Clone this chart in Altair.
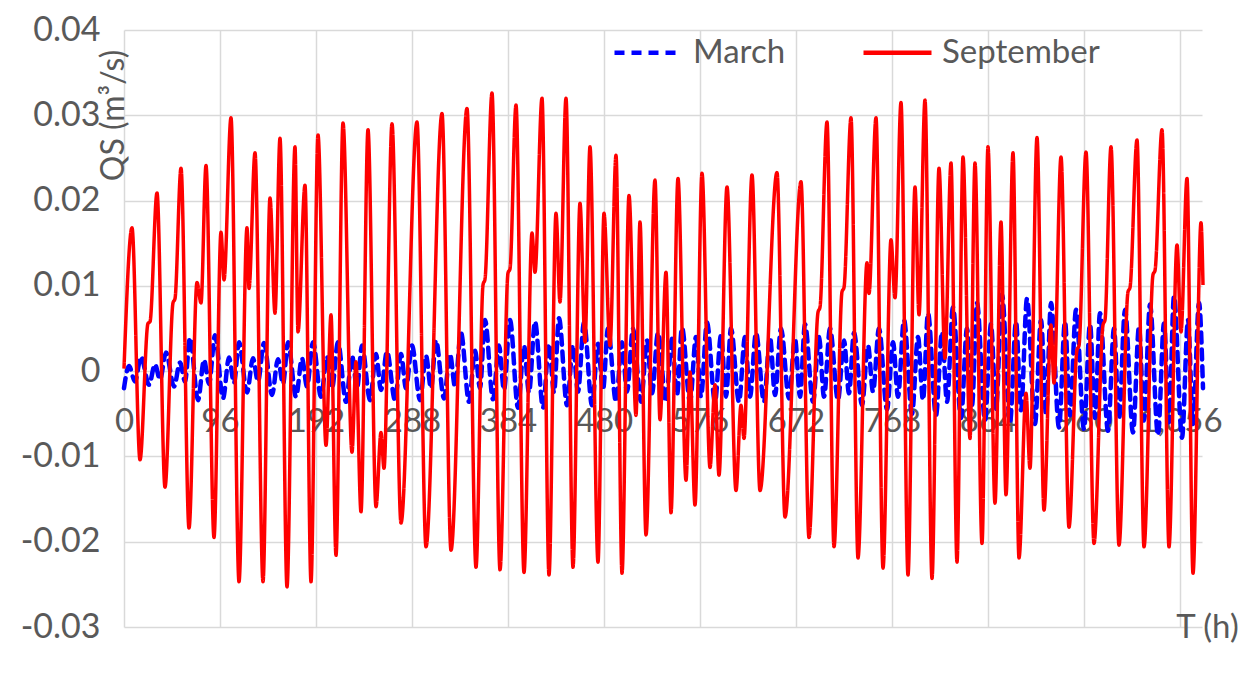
import altair as alt
import pandas as pd

# September discharge QS (m3/s): turning points of the hourly record, time in hours
sep_t = [0, 8, 16, 24, 26, 33, 41, 49, 51, 57, 65, 73, 77, 82, 90, 97, 100, 107, 115,
         123, 125, 131, 139, 146, 151, 156, 163, 171, 174, 181, 187, 194, 202, 207, 212,
         219, 228, 232, 237, 244, 252, 257, 260, 268, 277, 293, 302, 318, 327, 343, 352,
         359, 361, 368, 376, 384, 386, 392, 400, 408, 411, 418, 425, 432, 436, 442, 449,
         456, 461, 466, 474, 480, 486, 492, 498, 505, 512, 516, 522, 531, 536, 542, 547,
         554, 562, 566, 571, 578, 586, 591, 595, 603, 612, 617, 620, 628, 636, 653, 661,
         677, 685, 694, 696, 703, 710, 718, 720, 727, 734, 743, 745, 752, 759, 767, 771,
         777, 784, 791, 795, 801, 808, 815, 821, 827, 833, 839, 846, 851, 858, 864, 871,
         877, 882, 889, 895, 902, 906, 913, 920, 927, 930, 937, 945, 953, 955, 962, 970,
         979, 981, 987, 995, 1004, 1006, 1013, 1020, 1029, 1031, 1038, 1045, 1053, 1057,
         1063, 1069, 1077, 1079]
sep_q = [0.0003, 0.0168, -0.0104, 0.0056, 0.0058, 0.0209, -0.0136, 0.0080, 0.0085, 0.0238,
         -0.0184, 0.0104, 0.0080, 0.0241, -0.0195, 0.0163, 0.0107, 0.0297, -0.0247,
         0.0168, 0.0097, 0.0256, -0.0247, 0.0203, 0.0068, 0.0273, -0.0253, 0.0263, 0.0046,
         0.0218, -0.0247, 0.0277, -0.0087, 0.0066, -0.0216, 0.0291, -0.0095, 0.0011,
         -0.0165, 0.0283, -0.0159, -0.0072, -0.0114, 0.0290, -0.0178, 0.0292, -0.0206,
         0.0302, -0.0210, 0.0308, -0.0230, 0.0101, 0.0108, 0.0326, -0.0233, 0.0115, 0.0120,
         0.0312, -0.0236, 0.0162, 0.0116, 0.0320, -0.0239, 0.0185, 0.0081, 0.0320, -0.0230,
         0.0197, 0.0034, 0.0263, -0.0224, 0.0185, 0.0030, 0.0253, -0.0237, 0.0206, -0.0052,
         0.0175, -0.0192, 0.0224, -0.0057, 0.0116, -0.0166, 0.0226, -0.0128, -0.0001,
         -0.0157, 0.0232, -0.0113, -0.0016, -0.0122, 0.0216, -0.0140, -0.0040, -0.0079,
         0.0230, -0.0140, 0.0233, -0.0171, 0.0222, -0.0195, 0.0069, 0.0075, 0.0292, -0.0206,
         0.0093, 0.0098, 0.0297, -0.0219, 0.0127, 0.0091, 0.0297, -0.0231, 0.0154, 0.0086,
         0.0315, -0.0239, 0.0216, 0.0066, 0.0318, -0.0243, 0.0238, 0.0015, 0.0244, -0.0224,
         0.0251, -0.0079, 0.0244, -0.0202, 0.0263, -0.0155, 0.0175, -0.0145, 0.0256,
         -0.0219, -0.0026, -0.0114, 0.0274, -0.0163, 0.0054, -0.0014, 0.0251, -0.0183,
         0.0025, 0.0030, 0.0257, -0.0202, 0.0054, 0.0060, 0.0263, -0.0204, 0.0093, 0.0098,
         0.0271, -0.0206, 0.0113, 0.0118, 0.0283, -0.0206, 0.0148, 0.0046, 0.0226, -0.0237,
         0.0174, 0.0101]

# March discharge QS (m3/s): turning points, time in hours
mar_t = [0, 5, 11, 17, 25, 31, 36, 42, 50, 56, 61, 66, 74, 80, 85, 91, 99, 105, 110, 115,
         123, 129, 134, 140, 148, 154, 159, 164, 172, 178, 183, 189, 197, 203, 208, 214,
         222, 228, 233, 238, 246, 252, 257, 263, 271, 277, 282, 288, 296, 302, 307, 312,
         320, 326, 331, 337, 345, 351, 356, 361, 369, 375, 380, 386, 394, 400, 405, 411,
         419, 425, 430, 435, 443, 449, 454, 460, 468, 474, 479, 484, 492, 498, 503, 509,
         517, 523, 528, 534, 542, 548, 553, 558, 566, 572, 577, 583, 591, 597, 602, 607,
         615, 621, 626, 632, 640, 646, 651, 657, 665, 671, 676, 681, 689, 695, 700, 706,
         714, 720, 725, 730, 738, 744, 749, 755, 763, 769, 774, 780, 788, 794, 799, 804,
         812, 818, 823, 829, 837, 843, 848, 853, 861, 867, 872, 878, 886, 892, 897, 903,
         911, 917, 922, 927, 935, 941, 946, 952, 960, 966, 971, 976, 984, 990, 995, 1001,
         1009, 1015, 1020, 1026, 1034, 1040, 1045, 1050, 1058, 1064, 1069, 1075, 1079]
mar_q = [-0.0020, 0.0006, -0.0012, 0.0017, -0.0016, 0.0008, -0.0010, 0.0022, -0.0018,
         0.0010, -0.0012, 0.0039, -0.0034, 0.0013, -0.0015, 0.0042, -0.0032, 0.0016,
         -0.0014, 0.0034, -0.0025, 0.0015, -0.0012, 0.0033, -0.0028, 0.0014, -0.0015,
         0.0034, -0.0030, 0.0015, -0.0018, 0.0034, -0.0030, 0.0017, -0.0020, 0.0034,
         -0.0036, 0.0018, -0.0020, 0.0030, -0.0034, 0.0020, -0.0022, 0.0023, -0.0034,
         0.0020, -0.0020, 0.0030, -0.0034, 0.0018, -0.0020, 0.0036, -0.0032, 0.0020,
         -0.0018, 0.0045, -0.0036, 0.0024, -0.0020, 0.0060, -0.0033, 0.0030, -0.0022,
         0.0060, -0.0043, 0.0030, -0.0025, 0.0058, -0.0043, 0.0032, -0.0025, 0.0062,
         -0.0040, 0.0030, -0.0024, 0.0057, -0.0040, 0.0032, -0.0022, 0.0050, -0.0036,
         0.0034, -0.0024, 0.0050, -0.0036, 0.0036, -0.0026, 0.0045, -0.0036, 0.0038,
         -0.0028, 0.0051, -0.0036, 0.0040, -0.0030, 0.0057, -0.0036, 0.0042, -0.0030,
         0.0050, -0.0036, 0.0040, -0.0030, 0.0045, -0.0036, 0.0040, -0.0028, 0.0050,
         -0.0032, 0.0038, -0.0030, 0.0055, -0.0036, 0.0040, -0.0030, 0.0050, -0.0034,
         0.0036, -0.0026, 0.0045, -0.0040, 0.0030, -0.0024, 0.0050, -0.0045, 0.0034,
         -0.0030, 0.0060, -0.0050, 0.0040, -0.0034, 0.0068, -0.0052, 0.0046, -0.0036,
         0.0075, -0.0055, 0.0050, -0.0040, 0.0080, -0.0058, 0.0055, -0.0044, 0.0090,
         -0.0060, 0.0058, -0.0046, 0.0085, -0.0062, 0.0060, -0.0050, 0.0080, -0.0066,
         0.0058, -0.0052, 0.0072, -0.0068, 0.0055, -0.0055, 0.0068, -0.0070, 0.0050,
         -0.0056, 0.0072, -0.0072, 0.0052, -0.0058, 0.0078, -0.0075, 0.0056, -0.0060,
         0.0088, -0.0078, 0.0060, -0.0062, 0.0080, -0.0020]

series_names = ["March", "September"]
series_colors = ["#0000FF", "#FF0000"]
series_dash = [[10, 7], [1, 0]]
x_ticks = [0, 96, 192, 288, 384, 480, 576, 672, 768, 864, 960, 1056]
y_ticks = [-0.03, -0.02, -0.01, 0, 0.01, 0.02, 0.03, 0.04]

march = pd.DataFrame({"T": mar_t, "QS": mar_q, "series": "March"})
september = pd.DataFrame({"T": sep_t, "QS": sep_q, "series": "September"})

FONT = "Lato"
GREY = "#595959"
GRID = "#D9D9D9"

x_enc = alt.X(
    "T:Q",
    scale=alt.Scale(domain=[0, 1078], nice=False, zero=False),
    axis=alt.Axis(
        values=x_ticks, title="T (h)", offset=-256, grid=True, gridColor=GRID,
        gridWidth=1.5, domain=False, ticks=False, labelFontSize=33, labelColor=GREY,
        labelFont=FONT, labelPadding=34, labelOverlap=False, labelFlush=False,
        labelBound=False, titleFont=FONT, titleFontSize=33, titleFontWeight="normal",
        titleColor=GREY, titleX=1083, titleY=256, titleAlign="center",
        titleBaseline="middle",
    ),
)
y_enc = alt.Y(
    "QS:Q",
    scale=alt.Scale(domain=[-0.03, 0.04], nice=False, zero=False),
    axis=alt.Axis(
        values=y_ticks, title="QS (m³/s)", grid=True, gridColor=GRID, gridWidth=1.5,
        domain=False, ticks=False, labelFontSize=34, labelColor=GREY, labelFont=FONT,
        labelPadding=24, labelFlush=False, labelOverlap=False,
        labelExpr="datum.value == 0 ? '0' : (datum.value < 0 ? '-' : '') + format(abs(datum.value), '.2f')",
        titleFont=FONT, titleFontSize=32, titleFontWeight="normal", titleColor=GREY,
        titleAngle=270, titleX=-11, titleY=85, titleAlign="center", titleBaseline="middle",
    ),
)
color_enc = alt.Color(
    "series:N",
    scale=alt.Scale(domain=series_names, range=series_colors),
    legend=alt.Legend(
        title=None, orient="none", legendX=488, legendY=-14, direction="horizontal",
        symbolType="stroke", symbolSize=4624, symbolStrokeWidth=4.5, labelFont=FONT,
        labelFontSize=33, labelColor=GREY, labelOffset=8, columnPadding=68,
        labelLimit=300,
    ),
)
dash_enc = alt.StrokeDash(
    "series:N", scale=alt.Scale(domain=series_names, range=series_dash), legend=None
)

blue = alt.Chart(march).mark_line(
    interpolate="monotone", strokeWidth=4.5, strokeCap="round"
).encode(x=x_enc, y=y_enc, color=color_enc, strokeDash=dash_enc)

red = alt.Chart(september).mark_line(
    interpolate="monotone", strokeWidth=3.5
).encode(x=x_enc, y=y_enc, color=color_enc, strokeDash=dash_enc)

chart = (
    alt.layer(blue, red)
    .properties(
        width=1078, height=597,
        autosize=alt.AutoSizeParams(type="none"),
        padding={"left": 124, "top": 30, "right": 43, "bottom": 50},
        background="white",
    )
    .configure_view(stroke=None)
)

chart.save("out.html", embed_options={"renderer": "svg", "actions": False})
